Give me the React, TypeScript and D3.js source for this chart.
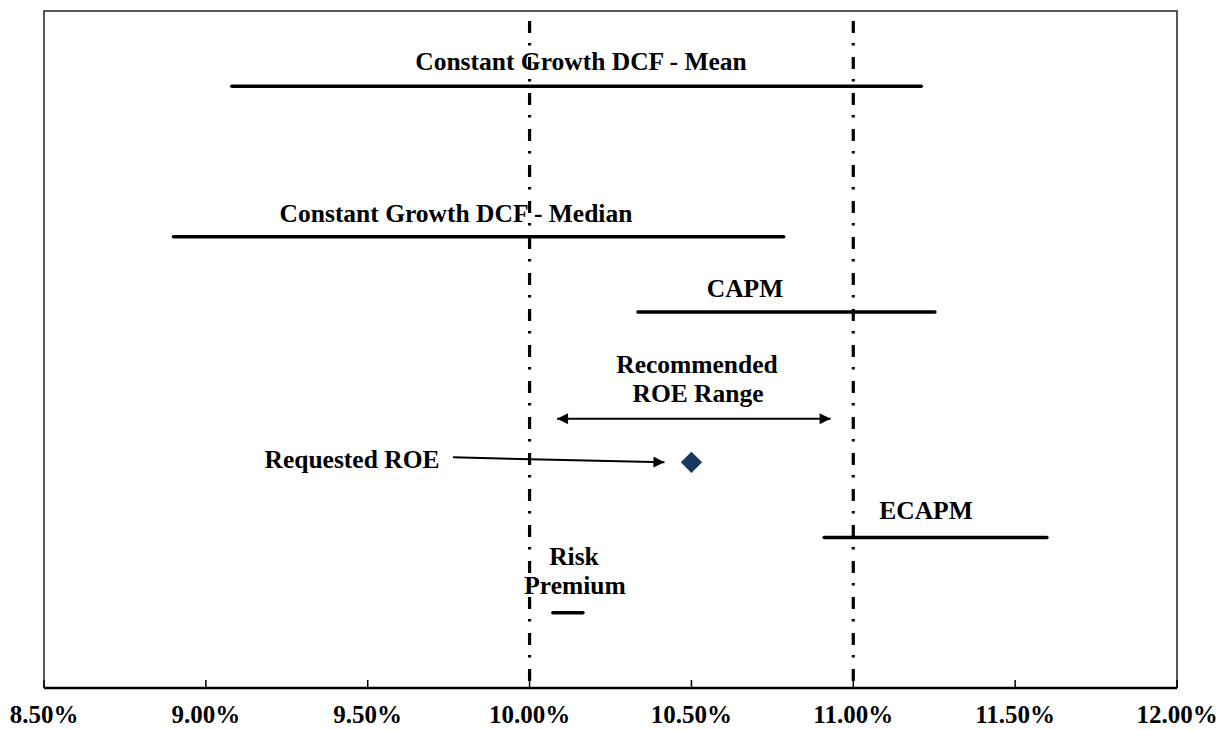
import React from "react";
import * as d3 from "d3";

const xTicks = [0.085, 0.09, 0.095, 0.1, 0.105, 0.11, 0.115, 0.12];
const rangeNames = ["Constant Growth DCF - Mean", "Constant Growth DCF - Median", "CAPM", "ECAPM", "Risk Premium"];
const rangeLows = [0.0908, 0.089, 0.10335, 0.1091, 0.10072];
const rangeHighs = [0.1121, 0.10785, 0.11252, 0.11598, 0.10165];
const rangeRows = [8, 6, 5, 2, 1];
const refLines = [0.1, 0.11];
const recommendedLow = 0.10085;
const recommendedHigh = 0.1093;
const recommendedRow = 3.58;
const requestedROE = 0.105;
const requestedRow = 3;

const W = 1221;
const H = 730;
const left = 44, right = 1177, top = 11, bottom = 688;
const FONT = "Liberation Serif, Times New Roman, DejaVu Serif, serif";

export default function App() {
  const x = d3.scaleLinear().domain([0.085, 0.12]).range([left, right]);
  const y = d3.scaleLinear().domain([0, 9]).range([bottom, top]);
  const fmt = d3.format(".2%");

  return (
    <svg width={W} height={H} style={{ position: "absolute", left: 0, top: 0 }}>
      <defs>
        <marker id="ah2" viewBox="0 0 10 10" refX="10" refY="5" markerWidth="7" markerHeight="5.5" orient="auto-start-reverse" markerUnits="strokeWidth">
          <path d="M0,0 L10,5 L0,10 z" fill="#000" />
        </marker>
      </defs>
      <rect x={0} y={0} width={W} height={H} fill="#fff" />
      <path d={`M${left},${bottom} L${left},${top} L${right},${top} L${right},${bottom}`} fill="none" stroke="#222" strokeWidth={1.5} />
      {refLines.map((v, i) => (
        <line key={i} x1={x(v)} x2={x(v)} y1={top} y2={bottom} stroke="#000" strokeWidth={3.2}
          strokeDasharray="12,10,2.5,11.5" strokeDashoffset={26} />
      ))}
      <line x1={left} x2={right} y1={bottom} y2={bottom} stroke="#000" strokeWidth={2.5} />
      {xTicks.map((t, i) => (
        <g key={i}>
          <line x1={x(t)} x2={x(t)} y1={bottom} y2={bottom - 8} stroke="#000" strokeWidth={1.5} />
          <text x={x(t)} y={bottom + 35} textAnchor="middle" fontFamily={FONT} fontWeight={700} fontSize={25}>{fmt(t)}</text>
        </g>
      ))}
      {rangeNames.map((n, i) => (
        <line key={n} x1={x(rangeLows[i])} x2={x(rangeHighs[i])} y1={y(rangeRows[i])} y2={y(rangeRows[i])}
          stroke="#000" strokeWidth={3.5} strokeLinecap="round" />
      ))}
      <g fontFamily={FONT} fontWeight={700} fontSize={25.5} textAnchor="middle">
        <text x={581} y={y(8) - 16}>{rangeNames[0]}</text>
        <text x={456} y={y(6) - 15}>{rangeNames[1]}</text>
        <text x={745} y={y(5) - 15}>{rangeNames[2]}</text>
        <text x={926} y={y(2) - 19}>{rangeNames[3]}</text>
        <text x={574} y={y(1) - 48}>Risk</text>
        <text x={575} y={y(1) - 19}>Premium</text>
        <text x={697} y={y(recommendedRow) - 46}>Recommended</text>
        <text x={698} y={y(recommendedRow) - 17}>ROE Range</text>
        <text x={352} y={y(requestedRow) + 6}>Requested ROE</text>
      </g>
      <line x1={x(recommendedLow)} x2={x(recommendedHigh)} y1={y(recommendedRow)} y2={y(recommendedRow)}
        stroke="#000" strokeWidth={2} markerStart="url(#ah2)" markerEnd="url(#ah2)" />
      <line x1={453} y1={y(requestedRow) - 5} x2={x(requestedROE) - 27} y2={y(requestedRow)}
        stroke="#000" strokeWidth={2} markerEnd="url(#ah2)" />
      <path d={d3.symbol(d3.symbolDiamond2, 290)() || ""} transform={`translate(${x(requestedROE)},${y(requestedRow)})`} fill="#1b365d" />
    </svg>
  );
}
